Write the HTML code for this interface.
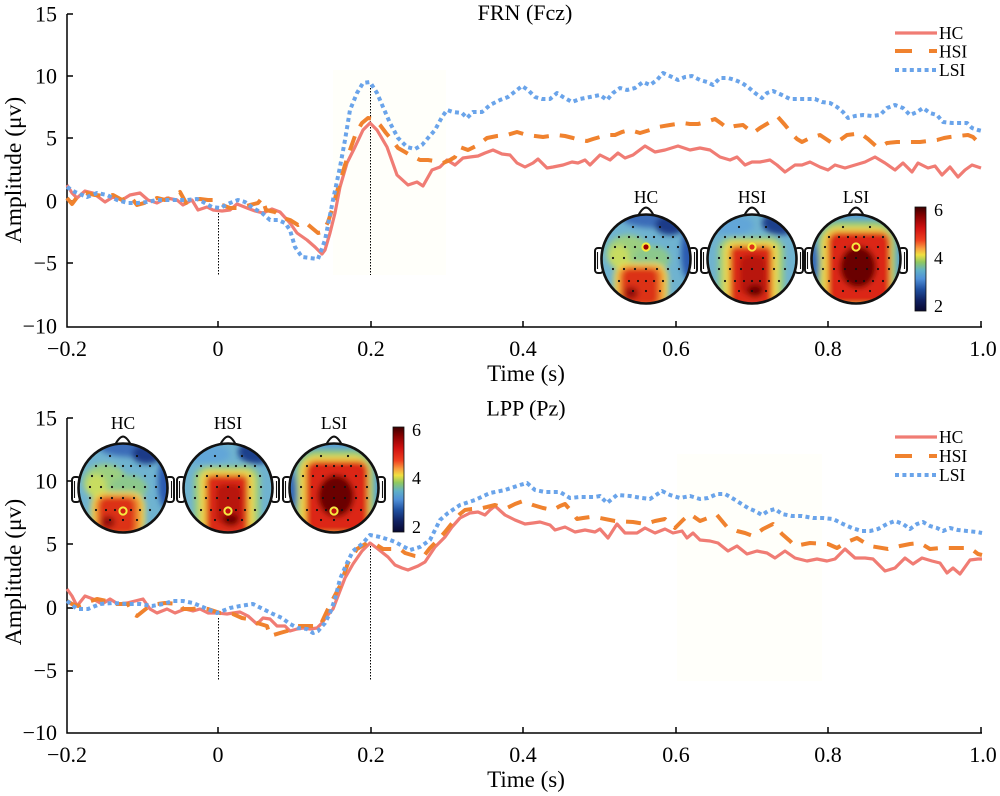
<!DOCTYPE html>
<html><head><meta charset="utf-8"><style>
html,body{margin:0;padding:0;background:#fff;}
svg{display:block;}
text{font-family:"Liberation Serif","DejaVu Serif",serif;fill:#000;}
</style></head><body>
<svg width="1000" height="796" viewBox="0 0 1000 796" xmlns="http://www.w3.org/2000/svg">
<defs>
<clipPath id="hc"><circle cx="0" cy="0" r="44"/></clipPath>
<filter id="bl" x="-50%" y="-50%" width="200%" height="200%"><feGaussianBlur stdDeviation="3"/></filter>
<linearGradient id="cb" x1="0" y1="0" x2="0" y2="1">
<stop offset="0" stop-color="#3a0000"/>
<stop offset="0.08" stop-color="#820000"/>
<stop offset="0.2" stop-color="#d01010"/>
<stop offset="0.32" stop-color="#f04020"/>
<stop offset="0.4" stop-color="#f8a040"/>
<stop offset="0.46" stop-color="#f0e040"/>
<stop offset="0.53" stop-color="#90c860"/>
<stop offset="0.61" stop-color="#60b0c8"/>
<stop offset="0.69" stop-color="#5090d8"/>
<stop offset="0.79" stop-color="#2050a0"/>
<stop offset="0.9" stop-color="#102060"/>
<stop offset="1" stop-color="#080830"/>
</linearGradient>
<g id="head">
<rect x="-51" y="-11" width="8" height="25" rx="3" fill="#fff" stroke="#111" stroke-width="2"/>
<path d="M-48.5,-7 v17" stroke="#111" stroke-width="1.1"/>
<rect x="43" y="-11" width="8" height="25" rx="3" fill="#fff" stroke="#111" stroke-width="2"/>
<path d="M48.5,-7 v17" stroke="#111" stroke-width="1.1"/>
<path d="M-8,-43 Q-4,-51 0,-51.5 Q4,-51 8,-43z" fill="#fff" stroke="#111" stroke-width="2"/>
</g>
<g id="dots" fill="#111">
<circle cx="-13" cy="-32" r="1.1"/><circle cx="14" cy="-32" r="1.1"/>
<circle cx="-27" cy="-22" r="1.1"/><circle cx="-17" cy="-22" r="1.1"/><circle cx="-8" cy="-22" r="1.1"/><circle cx="0" cy="-22" r="1.1"/><circle cx="8" cy="-22" r="1.1"/><circle cx="17" cy="-22" r="1.1"/><circle cx="27" cy="-22" r="1.1"/>
<circle cx="-31" cy="-12" r="1.1"/><circle cx="-21" cy="-12" r="1.1"/><circle cx="-11" cy="-12" r="1.1"/><circle cx="0" cy="-12" r="1.1"/><circle cx="11" cy="-12" r="1.1"/><circle cx="22" cy="-12" r="1.1"/><circle cx="32" cy="-12" r="1.1"/>
<circle cx="-33" cy="-1" r="1.1"/><circle cx="-22" cy="-1" r="1.1"/><circle cx="-11" cy="-1" r="1.1"/><circle cx="0" cy="-1" r="1.1"/><circle cx="11" cy="-1" r="1.1"/><circle cx="22" cy="-1" r="1.1"/><circle cx="33" cy="-1" r="1.1"/>
<circle cx="-33" cy="10" r="1.1"/><circle cx="-22" cy="10" r="1.1"/><circle cx="-11" cy="10" r="1.1"/><circle cx="0" cy="10" r="1.1"/><circle cx="11" cy="10" r="1.1"/><circle cx="22" cy="10" r="1.1"/><circle cx="33" cy="10" r="1.1"/>
<circle cx="-27" cy="22" r="1.1"/><circle cx="-17" cy="22" r="1.1"/><circle cx="-8" cy="22" r="1.1"/><circle cx="0" cy="22" r="1.1"/><circle cx="8" cy="22" r="1.1"/><circle cx="17" cy="22" r="1.1"/><circle cx="27" cy="22" r="1.1"/>
<circle cx="-13" cy="32" r="1.1"/><circle cx="0" cy="32" r="1.1"/><circle cx="14" cy="32" r="1.1"/>
</g>
<g id="mapHC">
<g clip-path="url(#hc)">
<circle r="44" fill="#6fb3d0"/>
<g filter="url(#bl)">
<ellipse cx="-18" cy="-6" rx="22" ry="18" fill="#9ccf80"/>
<ellipse cx="-27" cy="-2" rx="10" ry="12" fill="#c8dc60"/>
<ellipse cx="6" cy="0" rx="18" ry="13" fill="#8cc88c"/>
<ellipse cx="12" cy="-41" rx="36" ry="10" fill="#3a6cb8"/>
<ellipse cx="24" cy="-34" rx="15" ry="10" fill="#1a3a88"/>
<ellipse cx="42" cy="-6" rx="7" ry="26" fill="#2a5ab0"/>
<rect x="-32" y="4" width="54" height="44" rx="14" fill="#f0dc50"/>
<rect x="-28" y="7" width="46" height="40" rx="10" fill="#f08a30"/>
<rect x="-24" y="9" width="36" height="38" rx="8" fill="#dc3018"/>
<ellipse cx="-15" cy="34" rx="7" ry="6" fill="#900a0a"/>
</g>
</g>
<circle r="44.5" fill="none" stroke="#111" stroke-width="2.6"/>
</g>
<g id="mapHSI">
<g clip-path="url(#hc)">
<circle r="44" fill="#6fb3d0"/>
<g filter="url(#bl)">
<ellipse cx="-20" cy="-34" rx="22" ry="10" fill="#62a6d8"/>
<ellipse cx="28" cy="-36" rx="18" ry="12" fill="#1e3f8c"/>
<rect x="-34" y="-22" width="66" height="68" rx="14" fill="#9ccf7a"/>
<rect x="-28" y="-18" width="54" height="64" rx="10" fill="#f0d84a"/>
<rect x="-22" y="-13" width="42" height="60" rx="6" fill="#dc2a16"/>
<rect x="-12" y="-4" width="26" height="40" rx="8" fill="#b81410"/>
<ellipse cx="3" cy="32" rx="8" ry="6" fill="#6a0404"/>
</g>
</g>
<circle r="44.5" fill="none" stroke="#111" stroke-width="2.6"/>
</g>
<g id="mapLSI">
<g clip-path="url(#hc)">
<circle r="44" fill="#5aa0d6"/>
<g filter="url(#bl)">
<rect x="-38" y="-38" width="78" height="86" rx="22" fill="#98ce74"/>
<rect x="-34" y="-32" width="70" height="80" rx="16" fill="#f2d446"/>
<rect x="-28" y="-27" width="62" height="72" rx="10" fill="#dc2614"/>
<ellipse cx="2" cy="8" rx="18" ry="21" fill="#6a0000"/>
<ellipse cx="-42" cy="6" rx="5" ry="22" fill="#2f66b8"/>
</g>
</g>
<circle r="44.5" fill="none" stroke="#111" stroke-width="2.6"/>
</g>
</defs>

<!-- ================= TOP PANEL ================= -->
<rect x="333" y="70" width="113" height="205" fill="#fffffa"/>
<text x="525" y="20" font-size="22" text-anchor="middle">FRN (Fcz)</text>
<g stroke="#000" stroke-width="1.5" fill="none">
<path d="M67,14 V327 H982"/>
<path d="M67,14 h6 M67,76 h6 M67,138 h6 M67,201 h6 M67,263 h6"/>
<path d="M218,327 v-6 M371,327 v-6 M523,327 v-6 M676,327 v-6 M828,327 v-6 M981,327 v-6"/>
</g>
<g font-size="22" text-anchor="end">
<text x="57" y="21.5">15</text>
<text x="57" y="83.5">10</text>
<text x="57" y="145.5">5</text>
<text x="57" y="208.5">0</text>
<text x="57" y="270.5">−5</text>
<text x="57" y="333.5">−10</text>
</g>
<g font-size="22" text-anchor="middle">
<text x="67" y="356">−0.2</text>
<text x="218" y="356">0</text>
<text x="371" y="356">0.2</text>
<text x="523" y="356">0.4</text>
<text x="676" y="356">0.6</text>
<text x="828" y="356">0.8</text>
<text x="983" y="356">1.0</text>
</g>
<text x="526" y="381" font-size="23" text-anchor="middle">Time (s)</text>
<text transform="translate(21,170) rotate(-90)" font-size="23.5" text-anchor="middle">Amplitude (μv)</text>
<g stroke="#000" stroke-width="1" stroke-dasharray="1.5 1.5">
<path d="M218.5,210 V275"/>
<path d="M370.5,85 V275"/>
</g>

<polyline fill="none" stroke="#f07c74" stroke-width="3.2" stroke-linejoin="round" points="67,185 72,193 77,198 85,191 93,193 105,202 113,197 122,200 130,195 140,193 148,200 157,203 167,198 177,200 183,205 192,200 198,210 207,207 213,210 222,211 230,210 237,204 247,208 255,211 263,213 272,209 280,212 290,223 297,233 307,240 315,247 322,254 325,250 330,233 335,213 340,187 347,163 355,147 363,130 370,123 377,130 387,147 397,175 408,185 417,182 423,186 432,170 440,167 447,160 455,165 463,158 470,157 478,156 485,153 493,150 502,154 510,155 517,163 525,167 533,163 538,159 547,168 553,167 563,165 572,162 578,163 585,160 590,165 600,155 610,160 618,153 625,158 633,155 645,146 655,152 665,150 678,146 690,150 700,148 710,150 720,157 730,160 737,157 745,165 752,162 760,162 770,160 777,165 785,172 795,165 802,165 810,162 820,167 828,170 835,165 845,168 855,165 865,162 875,157 885,163 895,170 903,163 912,172 918,163 928,168 935,166 942,175 950,167 958,177 965,170 972,165 981,168"/>

<polyline fill="none" stroke="#f0822e" stroke-width="4" stroke-dasharray="15 11" stroke-linejoin="round" points="67,198 72,204 78,196 86,193 95,195 105,196 113,195 122,200 130,196 137,205 148,202 157,198 165,200 175,196 180,192 186,203 192,200 200,199 208,200 215,200 222,205 230,208 240,208 250,205 258,203 262,198 266,210 275,212 283,218 290,220 298,225 305,222 312,228 318,233 323,232 328,222 332,210 336,195 340,182 345,165 350,150 356,133 362,123 368,118 374,119 380,125 386,133 392,140 398,148 405,152 410,155 416,158 420,160 428,160 435,161 443,163 450,160 455,157 460,147 468,150 478,145 487,138 497,136 507,135 517,132 527,135 535,136 543,137 550,136 557,135 565,136 573,138 580,140 587,141 593,139 600,137 608,135 615,135 622,132 630,130 640,133 650,130 658,127 670,125 683,123 690,124 698,124 706,122 715,119 722,124 727,128 735,126 743,125 748,129 753,133 760,128 765,125 770,122 775,119 778,117 785,125 793,135 797,139 802,142 810,138 820,135 826,139 832,143 840,140 847,135 855,134 860,133 868,139 877,147 882,146 887,143 897,142 907,142 915,142 920,142 928,141 937,140 944,138 950,137 958,136 968,135 973,137 978,142 981,143"/>

<polyline fill="none" stroke="#6aa4ea" stroke-width="4" stroke-dasharray="4 3.4" stroke-linejoin="round" points="67,187 75,192 87,197 97,193 107,195 117,200 128,203 138,203 147,202 157,200 167,200 177,200 187,200 197,199 203,202 212,207 220,208 230,203 238,200 245,202 253,208 262,213 270,220 278,220 285,223 290,230 295,247 302,257 310,258 318,259 325,240 333,200 340,167 345,140 350,110 357,93 363,83 370,82 377,93 383,107 390,123 398,138 407,147 415,149 422,145 428,138 435,130 442,117 447,110 453,112 462,113 467,118 473,112 482,112 490,105 500,100 508,97 517,90 522,86 528,90 535,97 542,99 550,99 557,93 563,97 572,102 580,99 590,97 600,95 607,100 613,93 620,88 627,90 635,88 643,82 650,85 657,80 663,73 672,77 678,80 685,77 692,76 700,80 707,82 713,85 720,78 728,78 735,80 742,83 748,87 755,93 762,98 767,93 773,91 782,95 790,99 798,99 807,99 815,99 822,102 830,103 837,107 843,112 848,118 855,116 863,115 872,116 880,115 887,108 895,105 903,108 910,115 917,112 923,108 930,113 937,115 943,122 952,123 960,123 967,123 972,128 978,130 982,131"/>

<!-- legend top -->
<g stroke-width="4" fill="none">
<path d="M895,33 H937" stroke="#f07c74" stroke-width="3.2"/>
<path d="M895,51 H937" stroke="#f0822e" stroke-dasharray="17 17"/>
<path d="M895,70 H937" stroke="#6aa4ea" stroke-dasharray="4 3.4"/>
</g>
<g font-size="17.5">
<text x="939" y="39">HC</text>
<text x="939" y="57.5">HSI</text>
<text x="939" y="76">LSI</text>
</g>

<!-- topomaps top -->
<g font-size="17.5" text-anchor="middle">
<text x="646" y="203">HC</text>
<text x="752" y="203">HSI</text>
<text x="856" y="203">LSI</text>
</g>
<g transform="translate(646,259)"><use href="#head"/><use href="#mapHC"/><use href="#dots"/><circle cx="0" cy="-12" r="3.6" fill="#a00000" stroke="#f6ea40" stroke-width="2"/></g>
<g transform="translate(752,259)"><use href="#head"/><use href="#mapHSI"/><use href="#dots"/><circle cx="0" cy="-12" r="3.6" fill="#e03018" stroke="#f6ea40" stroke-width="2"/></g>
<g transform="translate(856,259)"><use href="#head"/><use href="#mapLSI"/><use href="#dots"/><circle cx="0" cy="-12" r="3.6" fill="#c01010" stroke="#f6ea40" stroke-width="2"/></g>
<rect x="915" y="207" width="11" height="104" fill="url(#cb)" stroke="#111" stroke-width="0.8"/>
<g font-size="18">
<text x="934" y="216">6</text>
<text x="934" y="264">4</text>
<text x="934" y="312">2</text>
</g>

<!-- ================= BOTTOM PANEL ================= -->
<rect x="677" y="454" width="145" height="227" fill="#fffffa"/>
<text x="526" y="415.5" font-size="22" text-anchor="middle">LPP (Pz)</text>
<g stroke="#000" stroke-width="1.5" fill="none">
<path d="M67,418 V733 H982"/>
<path d="M67,418 h6 M67,481 h6 M67,544 h6 M67,608 h6 M67,671 h6"/>
<path d="M218,733 v-6 M371,733 v-6 M523,733 v-6 M676,733 v-6 M828,733 v-6 M981,733 v-6"/>
</g>
<g font-size="22" text-anchor="end">
<text x="57" y="425.5">15</text>
<text x="57" y="488.5">10</text>
<text x="57" y="551.5">5</text>
<text x="57" y="615">0</text>
<text x="57" y="678">−5</text>
<text x="57" y="740">−10</text>
</g>
<g font-size="22" text-anchor="middle">
<text x="67" y="762">−0.2</text>
<text x="218" y="762">0</text>
<text x="371" y="762">0.2</text>
<text x="523" y="762">0.4</text>
<text x="676" y="762">0.6</text>
<text x="828" y="762">0.8</text>
<text x="983" y="762">1.0</text>
</g>
<text x="526" y="787" font-size="23" text-anchor="middle">Time (s)</text>
<text transform="translate(21,572) rotate(-90)" font-size="23.5" text-anchor="middle">Amplitude (μv)</text>
<g stroke="#000" stroke-width="1" stroke-dasharray="1.5 1.5">
<path d="M218.5,618 V681"/>
<path d="M370.5,543 V681"/>
</g>

<polyline fill="none" stroke="#f07c74" stroke-width="3.2" stroke-linejoin="round" points="67,589 72,596 77,606 85,596 93,599 102,604 110,599 118,604 127,603 135,601 143,599 150,609 157,613 167,609 175,613 185,609 193,611 200,609 208,613 218,613 227,614 233,613 240,612 248,616 257,624 263,618 270,619 277,626 285,626 290,631 297,629 303,628 310,629 317,628 322,623 327,616 333,609 338,596 345,578 353,564 362,551 370,543 378,549 388,557 395,565 402,568 408,570 413,568 418,566 425,562 435,547 445,537 452,527 460,518 470,513 478,512 485,515 490,510 495,506 505,515 515,520 525,524 533,523 540,522 550,525 555,530 565,527 575,532 585,530 595,532 600,529 608,538 617,524 625,533 637,533 645,528 655,533 665,529 673,533 682,531 687,538 693,533 700,540 710,541 718,543 728,551 737,546 747,554 757,551 767,553 775,558 785,551 795,558 807,561 817,559 827,561 835,559 845,549 855,558 865,558 873,559 885,571 895,568 905,558 913,564 922,558 932,561 940,563 947,573 953,568 960,574 970,560 978,559 982,559"/>

<polyline fill="none" stroke="#f0822e" stroke-width="4" stroke-dasharray="15 11" stroke-linejoin="round" points="67,601 72,604 78,606 88,602 97,599 107,601 115,604 128,604 133,614 137,616 147,608 157,604 165,603 180,604 183,609 192,609 200,608 208,609 220,613 233,614 242,618 248,619 257,623 267,626 270,636 280,633 287,631 295,626 308,626 320,626 328,609 333,599 340,586 348,563 357,549 367,543 375,544 383,549 392,549 400,549 405,553 415,556 423,557 430,548 438,540 445,532 453,522 460,514 465,510 472,509 478,509 487,507 495,505 501,507 507,508 515,504 523,501 528,503 533,505 543,508 553,510 560,506 565,504 572,512 577,519 583,518 590,517 600,518 615,521 633,522 645,524 655,521 665,519 675,528 683,520 690,514 700,521 708,518 717,515 727,527 737,531 745,533 753,536 763,529 773,524 782,534 790,541 795,546 810,543 828,544 837,548 847,542 857,538 870,546 888,549 900,546 910,544 920,543 930,549 940,548 948,548 960,548 970,548 978,554 982,555"/>

<polyline fill="none" stroke="#6aa4ea" stroke-width="4" stroke-dasharray="4 3.4" stroke-linejoin="round" points="67,601 77,609 88,609 100,604 113,603 127,604 140,604 152,606 163,604 173,601 183,601 193,603 205,608 217,613 230,608 240,606 253,604 263,609 273,614 282,618 290,624 298,628 307,629 313,633 318,631 325,623 330,613 335,599 340,579 347,563 353,551 362,544 370,535 380,537 390,540 395,542 410,550 420,547 430,540 440,520 448,513 460,505 475,500 490,493 505,490 520,485 527,483 535,490 545,492 560,492 570,498 580,497 595,497 600,496 607,503 617,495 630,496 642,498 650,499 662,491 670,495 680,498 690,496 700,499 708,498 717,494 725,494 732,498 740,503 748,508 755,511 762,515 768,511 775,509 782,514 792,516 802,516 813,518 823,518 833,519 843,524 852,528 862,531 870,531 878,529 887,524 895,521 903,524 910,529 917,524 923,522 930,526 937,528 943,531 950,528 958,530 967,531 977,532 982,533"/>

<!-- legend bottom -->
<g stroke-width="4" fill="none">
<path d="M895,437 H937" stroke="#f07c74" stroke-width="3.2"/>
<path d="M895,456 H937" stroke="#f0822e" stroke-dasharray="17 17"/>
<path d="M895,475 H937" stroke="#6aa4ea" stroke-dasharray="4 3.4"/>
</g>
<g font-size="17.5">
<text x="939" y="443">HC</text>
<text x="939" y="462">HSI</text>
<text x="939" y="481">LSI</text>
</g>

<!-- topomaps bottom -->
<g font-size="17.5" text-anchor="middle">
<text x="123" y="429">HC</text>
<text x="228" y="429">HSI</text>
<text x="334" y="429">LSI</text>
</g>
<g transform="translate(123,488)"><use href="#head"/><use href="#mapHC"/><use href="#dots"/><circle cx="0" cy="23" r="3.6" fill="#d02010" stroke="#f6ea40" stroke-width="2"/></g>
<g transform="translate(228,488)"><use href="#head"/><use href="#mapHSI"/><use href="#dots"/><circle cx="0" cy="23" r="3.6" fill="#c01010" stroke="#f6ea40" stroke-width="2"/></g>
<g transform="translate(334,488)"><use href="#head"/><use href="#mapLSI"/><use href="#dots"/><circle cx="0" cy="23" r="3.6" fill="#c01010" stroke="#f6ea40" stroke-width="2"/></g>
<rect x="393" y="427" width="11" height="105" fill="url(#cb)" stroke="#111" stroke-width="0.8"/>
<g font-size="18">
<text x="412" y="436">6</text>
<text x="412" y="484">4</text>
<text x="412" y="533">2</text>
</g>
</svg>
</body></html>
